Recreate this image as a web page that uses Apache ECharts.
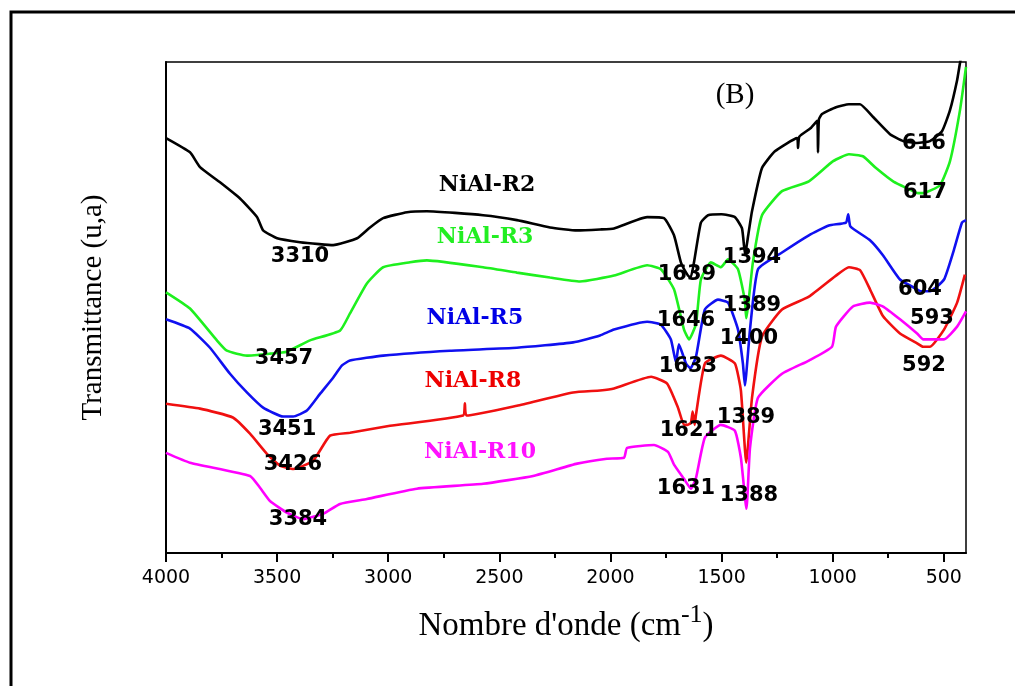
<!DOCTYPE html>
<html lang="fr" style="height: 100%">
<head>
    <meta charset="utf-8"/>
    <meta name="viewport" content="width=device-width, initial-scale=1.0"/>
</head>
<body style="height: 100%; margin: 0; overflow: hidden; background: #fff">
<div id="container" style="height: 100%"></div>

<script type="text/javascript" src="https://cdn.jsdelivr.net/npm/echarts@6/dist/echarts.min.js"></script>

<script type="text/javascript">
    // ticks on the wavenumber axis
    var majorTicks = [4000, 3500, 3000, 2500, 2000, 1500, 1000, 500];
    var minorTicks = [3750, 3250, 2750, 2250, 1750, 1250, 750];

    // NiAl-R2 (black)
    var r2Wave = [4000, 3892, 3847, 3757, 3667, 3590, 3563, 3500, 3397, 3310, 3248, 3140, 3082, 3023, 2915, 2826, 2573, 2421, 2272, 2150, 2047, 1984, 1835, 1759, 1714, 1683, 1651, 1639, 1624, 1593, 1561, 1500, 1440, 1408, 1394, 1380, 1363, 1318, 1260, 1160, 1156, 1150, 1100, 1070, 1066, 1062, 1048, 985, 927, 877, 818, 742, 683, 620, 562, 508, 472, 440, 427, 410];
    var r2Trans = [84.5, 81.6, 78.6, 75.5, 72.2, 68.4, 65.7, 64.1, 63.3, 62.9, 62.7, 64.1, 66.3, 68.2, 69.4, 69.6, 68.8, 67.8, 66.3, 65.7, 65.9, 66.1, 68.4, 68.2, 64.7, 59.2, 56.5, 56.1, 59.2, 67.3, 68.8, 69.0, 68.4, 66.1, 60.8, 64.7, 69.6, 78.4, 81.8, 84.5, 82.5, 84.8, 86.5, 88.0, 81.6, 88.3, 89.4, 90.8, 91.4, 91.4, 88.8, 85.3, 83.9, 83.5, 83.9, 85.9, 90.2, 96.3, 99.8, 104];

    // NiAl-R3 (green)
    var r3Wave = [4000, 3892, 3771, 3726, 3636, 3532, 3457, 3352, 3217, 3172, 3096, 3023, 2902, 2826, 2573, 2421, 2272, 2137, 1984, 1835, 1773, 1714, 1669, 1646, 1615, 1593, 1548, 1503, 1471, 1426, 1395, 1389, 1359, 1318, 1228, 1107, 998, 927, 864, 805, 728, 638, 617, 594, 517, 472, 427, 400];
    var r3Trans = [53.1, 49.8, 43.3, 41.2, 40.2, 40.6, 41.0, 43.3, 45.3, 48.8, 54.9, 58.2, 59.2, 59.6, 58.2, 57.1, 56.1, 55.3, 56.5, 58.6, 57.8, 53.7, 45.5, 43.5, 46.7, 55.7, 59.2, 58.2, 59.8, 57.8, 51.4, 47.8, 59.2, 68.8, 73.7, 75.7, 79.8, 81.2, 80.8, 78.4, 75.7, 73.7, 73.3, 73.3, 74.9, 79.8, 90.2, 99.0];

    // NiAl-R5 (blue)
    var r5Wave = [4000, 3892, 3802, 3712, 3636, 3563, 3473, 3428, 3366, 3307, 3248, 3208, 3172, 3023, 2722, 2421, 2168, 2047, 1984, 1835, 1773, 1728, 1705, 1692, 1660, 1640, 1615, 1575, 1516, 1471, 1426, 1404, 1395, 1372, 1336, 1228, 1107, 1017, 940, 930, 920, 832, 773, 697, 620, 604, 562, 499, 454, 418, 400];
    var r5Trans = [47.6, 45.7, 41.8, 36.5, 32.7, 29.6, 27.8, 27.8, 29.0, 32.4, 35.7, 38.2, 39.2, 40.2, 41.2, 41.8, 42.9, 44.3, 45.5, 47.1, 46.5, 43.5, 38.8, 42.5, 38.6, 37.6, 40.0, 49.6, 51.6, 51.0, 45.5, 38.6, 34.1, 45.5, 57.8, 61.2, 64.7, 66.7, 67.3, 69.0, 66.5, 63.7, 60.6, 55.7, 53.7, 53.3, 53.3, 55.7, 61.8, 67.3, 67.8];

    // NiAl-R8 (red)
    var r8Wave = [4000, 3847, 3699, 3622, 3546, 3487, 3426, 3338, 3262, 3172, 2992, 2663, 2655, 2648, 2421, 2168, 2047, 1984, 1817, 1745, 1696, 1669, 1655, 1638, 1630, 1621, 1615, 1575, 1503, 1440, 1413, 1389, 1363, 1318, 1228, 1107, 985, 927, 877, 832, 773, 697, 620, 593, 562, 499, 440, 405];
    var r8Trans = [30.4, 29.4, 27.6, 24.3, 20.2, 17.8, 17.1, 18.8, 23.9, 24.5, 25.9, 28.0, 30.5, 28.0, 30.0, 32.7, 33.1, 33.5, 35.9, 34.5, 29.6, 26.1, 26.1, 26.5, 28.8, 26.1, 28.2, 38.6, 40.2, 38.6, 33.1, 18.4, 31.6, 44.1, 49.6, 52.2, 56.5, 58.2, 57.6, 53.7, 48.2, 44.7, 42.7, 42.0, 42.0, 45.5, 51.0, 56.7];

    // NiAl-R10 (magenta)
    var r10Wave = [4000, 3892, 3622, 3577, 3532, 3455, 3383, 3293, 3217, 3096, 2871, 2573, 2348, 2150, 2016, 1939, 1925, 1804, 1741, 1714, 1669, 1638, 1615, 1575, 1503, 1440, 1413, 1388, 1372, 1336, 1228, 1107, 1003, 985, 909, 832, 773, 697, 620, 592, 499, 440, 400];
    var r10Trans = [20.4, 18.4, 15.7, 13.3, 10.6, 8.2, 6.9, 8.0, 10.0, 11.0, 13.1, 14.1, 15.7, 18.2, 19.2, 19.4, 21.4, 22.0, 20.6, 18.0, 15.1, 13.1, 15.3, 23.5, 26.1, 24.9, 19.4, 9.0, 21.4, 31.6, 36.5, 39.2, 42.0, 46.1, 50.2, 51.0, 50.2, 47.6, 44.7, 43.5, 43.5, 46.1, 49.2];

    var sampleNames = ["NiAl-R2", "NiAl-R3", "NiAl-R5", "NiAl-R8", "NiAl-R10"];
    var sampleColors = ["#000000", "#1ef01e", "#1010f0", "#f01010", "#ff00ff"];
    var sampleLabelColors = ["#000000", "#22ee22", "#0000e6", "#ee0000", "#ff11ff"];
    var sampleLabelWave = [2555, 2564, 2610, 2619, 2587];
    var sampleLabelTrans = [74.9, 64.3, 47.8, 34.9, 20.6];

    // band assignments written on the plot
    var peakText = ["3310", "3457", "3451", "3426", "3384", "1639", "1394", "1646", "1389", "1400", "1633", "1621", "1389", "1631", "1388", "616", "617", "604", "593", "592"];
    var peakWave = [3397, 3469, 3455, 3429, 3406, 1656, 1363, 1660, 1363, 1377, 1651, 1647, 1390, 1660, 1377, 589, 585, 607, 553, 589];
    var peakTrans = [60.4, 39.6, 25.1, 18.0, 6.9, 56.7, 60.2, 47.3, 50.4, 43.7, 38.0, 24.9, 27.6, 13.1, 11.8, 83.3, 73.5, 53.7, 47.8, 38.2];

    function zip(xs, ys) {
        return xs.map(function (x, i) { return [x, ys[i]]; });
    }

    var waves = [r2Wave, r3Wave, r5Wave, r8Wave, r10Wave];
    var trans = [r2Trans, r3Trans, r5Trans, r8Trans, r10Trans];

    var dom = document.getElementById("container");
    var myChart = echarts.init(dom, null, {renderer: "canvas"});

    var series = sampleNames.map(function (name, i) {
        return {
            name: name,
            type: "line",
            data: zip(waves[i], trans[i]),
            showSymbol: false,
            smooth: 0.15,
            lineStyle: {color: sampleColors[i], width: 2.6},
            itemStyle: {color: sampleColors[i]},
            z: 2
        };
    });

    // sample names
    series.push({
        type: "scatter",
        symbolSize: 0,
        silent: true,
        z: 5,
        itemStyle: {opacity: 1},
        data: sampleNames.map(function (name, i) {
            return {
                value: [sampleLabelWave[i], sampleLabelTrans[i]],
                name: name,
                label: {color: sampleLabelColors[i]}
            };
        }),
        label: {
            show: true,
            position: "inside",
            formatter: "{b}",
            opacity: 1,
            fontFamily: "DejaVu Serif",
            fontWeight: "bold",
            fontSize: 22
        }
    });

    // peak positions
    series.push({
        type: "scatter",
        symbolSize: 0,
        silent: true,
        z: 6,
        itemStyle: {opacity: 1},
        data: peakText.map(function (t, i) {
            return {value: [peakWave[i], peakTrans[i]], name: t};
        }),
        label: {
            show: true,
            position: "inside",
            formatter: "{b}",
            opacity: 1,
            color: "#000",
            fontFamily: "DejaVu Sans",
            fontWeight: "bold",
            fontSize: 21
        }
    });

    var option = {
        animation: false,
        grid: {
            left: 166, right: 49, top: 62, bottom: 133,
            show: true,
            borderColor: "#000",
            borderWidth: 1.5
        },
        xAxis: [
            {
                type: "value",
                inverse: true,
                min: 400,
                max: 4000,
                name: "{a|Nombre d'onde (cm}{s|-1}{a|)}",
                nameLocation: "middle",
                nameGap: 49,
                nameTextStyle: {
                    rich: {
                        a: {fontFamily: "Liberation Serif", fontSize: 33, color: "#000"},
                        s: {fontFamily: "Liberation Serif", fontSize: 26, color: "#000", padding: [0, 0, 22, 0]}
                    }
                },
                axisLine: {lineStyle: {color: "#000", width: 2}},
                axisTick: {customValues: majorTicks, length: 9, lineStyle: {color: "#000", width: 2}},
                axisLabel: {
                    customValues: majorTicks,
                    margin: 16,
                    color: "#000",
                    fontFamily: "DejaVu Sans",
                    fontSize: 19,
                    formatter: function (v) { return String(v); }
                },
                splitLine: {show: false}
            },
            {
                type: "value",
                inverse: true,
                min: 400,
                max: 4000,
                position: "bottom",
                axisLine: {show: false},
                axisTick: {customValues: minorTicks, length: 5, lineStyle: {color: "#000", width: 2}},
                axisLabel: {show: false},
                splitLine: {show: false}
            }
        ],
        yAxis: {
            type: "value",
            min: 0,
            max: 100,
            name: "Transmittance (u,a)",
            nameLocation: "middle",
            nameGap: 58,
            nameTextStyle: {fontFamily: "Liberation Serif", fontSize: 29, color: "#000"},
            axisLine: {show: true, lineStyle: {color: "#000", width: 2}},
            axisTick: {show: false},
            axisLabel: {show: false},
            splitLine: {show: false}
        },
        graphic: [
            {
                type: "rect",
                shape: {x: 11, y: 12, width: 1100, height: 800},
                style: {fill: "none", stroke: "#000", lineWidth: 3},
                silent: true
            },
            {
                type: "text",
                x: 735,
                y: 95,
                style: {
                    text: "(B)",
                    fontFamily: "Liberation Serif",
                    fontSize: 29,
                    fill: "#000",
                    align: "center",
                    verticalAlign: "middle"
                }
            }
        ],
        series: series
    };

    myChart.setOption(option);
    window.addEventListener("resize", myChart.resize);
</script>
</body>
</html>
